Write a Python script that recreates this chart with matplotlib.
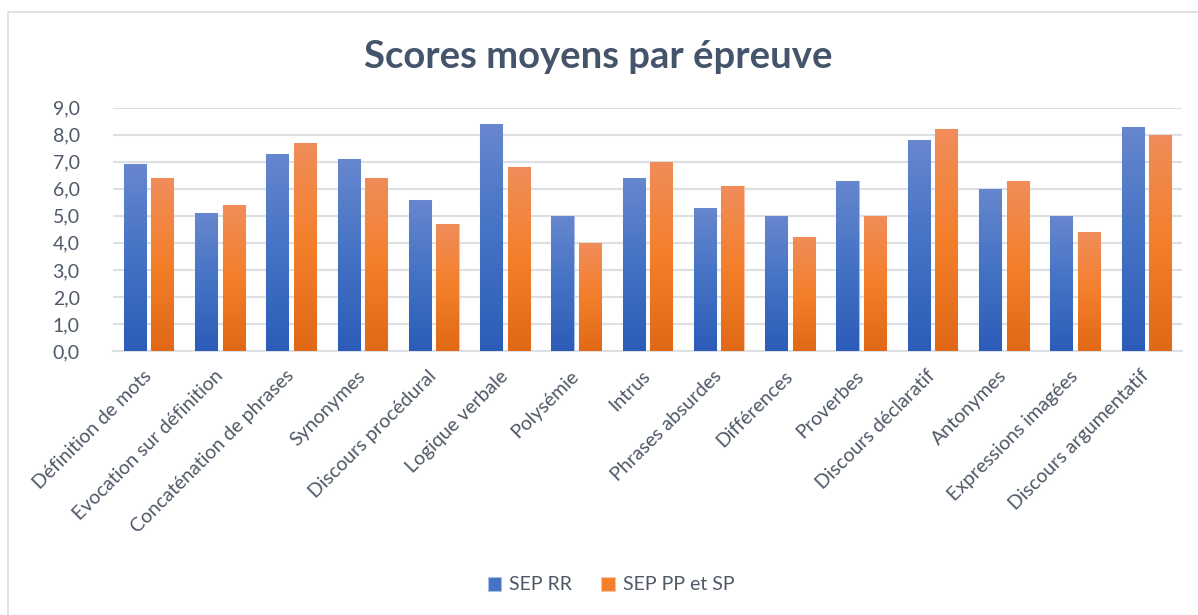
import numpy as np
import matplotlib.pyplot as plt
from matplotlib.patches import Rectangle
from matplotlib.colors import LinearSegmentedColormap

# Données
epreuves = ['Définition de mots', 'Evocation sur définition', 'Concaténation de phrases',
            'Synonymes', 'Discours procédural', 'Logique verbale', 'Polysémie', 'Intrus',
            'Phrases absurdes', 'Différences', 'Proverbes', 'Discours déclaratif',
            'Antonymes', 'Expressions imagées', 'Discours argumentatif']
sep_rr = [6.9, 5.1, 7.3, 7.1, 5.6, 8.4, 5.0, 6.4, 5.3, 5.0, 6.3, 7.8, 6.0, 5.0, 8.3]
sep_pp_sp = [6.4, 5.4, 7.7, 6.4, 4.7, 6.8, 4.0, 7.0, 6.1, 4.2, 5.0, 8.2, 6.3, 4.4, 8.0]
series = ['SEP RR', 'SEP PP et SP']
graduations = [0, 1, 2, 3, 4, 5, 6, 7, 8, 9]

police = 'Lato'
gris_texte = '#4E5866'
gris_grille = '#DCDFE4'

# Dégradés façon Excel (bas -> haut)
cmap_bleu = LinearSegmentedColormap.from_list('bleu', ['#2C5CB8', '#4472C4', '#6787CE'])
cmap_orange = LinearSegmentedColormap.from_list('orange', ['#E06816', '#F47F2B', '#F08D5A'])

fig = plt.figure(figsize=(11.98, 6.15), dpi=100)
ax = fig.add_axes([113 / 1198, 1 - 351 / 615, (1182 - 113) / 1198, (351 - 107.7) / 615])

x = np.arange(len(epreuves))
largeur = 0.31
decalage = 0.193
barres1 = ax.bar(x - decalage, sep_rr, largeur, color='#4472C4', edgecolor='#A9BDE6',
                 linewidth=0.8, label=series[0], zorder=3)
barres2 = ax.bar(x + decalage, sep_pp_sp, largeur, color='#F47F2B', edgecolor='#F8C3A0',
                 linewidth=0.8, label=series[1], zorder=3)

degrade = np.linspace(0, 1, 256).reshape(-1, 1)
for barres, cmap in [(barres1, cmap_bleu), (barres2, cmap_orange)]:
    for b in barres:
        x0, h, w = b.get_x(), b.get_height(), b.get_width()
        im = ax.imshow(degrade, extent=[x0, x0 + w, 0, h], origin='lower', aspect='auto',
                       cmap=cmap, zorder=3.5)
        im.set_clip_path(b)

ax.set_xlim(-0.5, len(epreuves) - 0.5)
ax.set_ylim(0, 9)
ax.set_yticks(graduations)
ax.set_yticklabels([f'{v:.1f}'.replace('.', ',') for v in graduations],
                   fontsize=14, color=gris_texte, family=police)
ax.yaxis.grid(True, color=gris_grille, linewidth=1.5, zorder=0)
ax.tick_params(axis='y', length=0, pad=24)

ax.set_xticks(x)
ax.set_xticklabels(epreuves, rotation=45, ha='right', va='center', rotation_mode='anchor',
                   fontsize=14, color=gris_texte, family=police)
ax.tick_params(axis='x', length=0, pad=16)

for cote in ['top', 'right', 'left']:
    ax.spines[cote].set_visible(False)
ax.spines['bottom'].set_color(gris_grille)
ax.spines['bottom'].set_linewidth(1.5)

fig.text(598 / 1198, 1 - 57 / 615, 'Scores moyens par épreuve', ha='center', va='center',
         fontsize=27.5, fontweight='bold', color='#44546A', family=police)

leg = fig.legend(handles=[barres1, barres2], labels=series, loc='center',
                 bbox_to_anchor=(611 / 1198, 1 - 585 / 615), ncol=2, frameon=False,
                 handlelength=0.7, handleheight=0.7, handletextpad=0.4, columnspacing=1.5,
                 prop={'family': police, 'size': 14})
for t in leg.get_texts():
    t.set_color(gris_texte)

# Cadre du graphique
fig.add_artist(Rectangle((8 / 1198, -0.05), 1.0, 1 - 12 / 615 + 0.05,
                         transform=fig.transFigure, fill=False,
                         edgecolor='#D9DCE1', linewidth=1.2))

fig.savefig('out.png', dpi=100)
